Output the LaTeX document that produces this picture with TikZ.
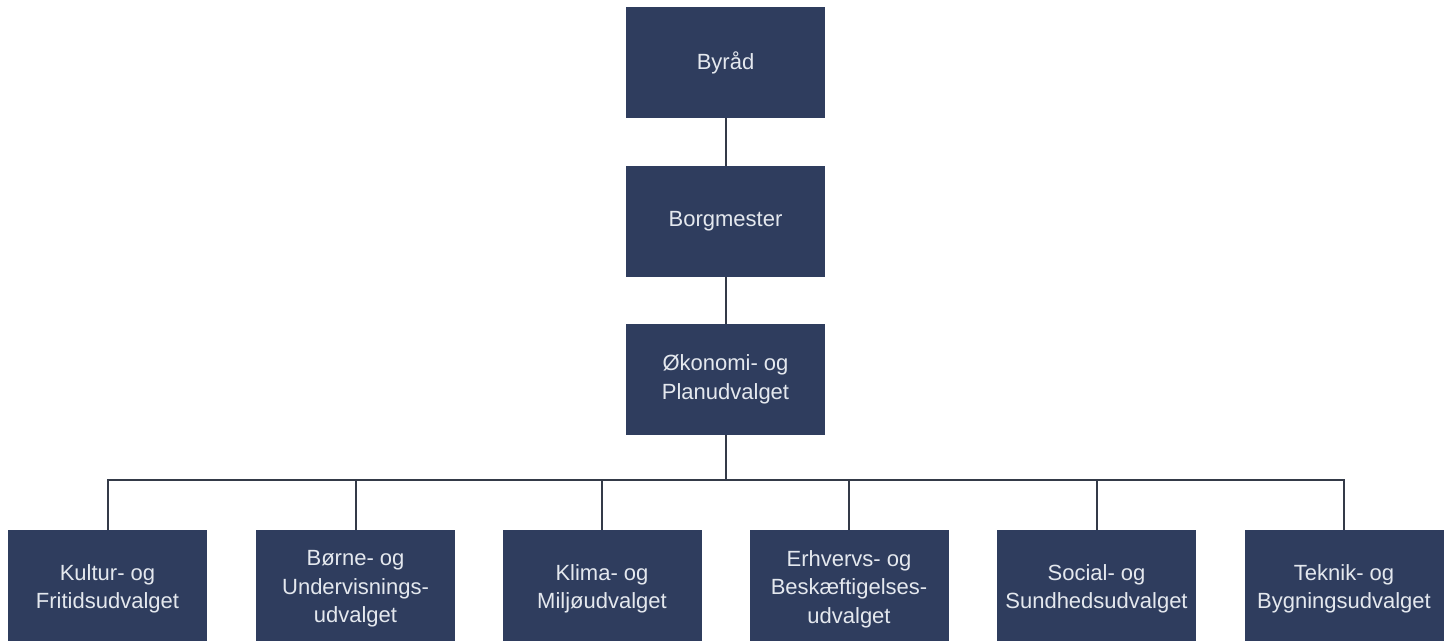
\documentclass[tikz,border=0pt]{standalone}
\usepackage{fontspec}
\setmainfont{Liberation Sans}
\definecolor{boxfill}{RGB}{47,61,94}
\definecolor{boxtext}{RGB}{228,232,238}
\definecolor{linecol}{RGB}{52,58,72}
\begin{document}
\begin{tikzpicture}[x=1pt,y=-1pt,
  orgbox/.style={draw=none,fill=boxfill,text=boxtext,minimum width=199pt,minimum height=111pt,
    inner sep=1pt,align=center,font=\fontsize{22}{28.5}\selectfont},
  lowbox/.style={orgbox,minimum height=118pt},
  conn/.style={draw=linecol,line width=2pt}]
\useasboundingbox (0,0) rectangle (1451,640);
\node[orgbox] (byraad) at (725.5,62.5) {Byråd};
\node[orgbox] (borg) at (725.5,221.5) {Borgmester};
\node[orgbox] (oek) at (725.5,379.5) {Økonomi- og\\Planudvalget};
\node[lowbox] (kultur) at (107.5,589) {Kultur- og\\Fritidsudvalget};
\node[lowbox] (boerne) at (355.5,589) {Børne- og\\Undervisnings-\\udvalget};
\node[lowbox] (klima) at (602,589) {Klima- og\\Miljøudvalget};
\node[lowbox] (erhverv) at (849,589) {Erhvervs- og\\Beskæftigelses-\\udvalget};
\node[lowbox] (social) at (1096.5,589) {Social- og\\Sundhedsudvalget};
\node[lowbox] (teknik) at (1344,589) {Teknik- og\\Bygningsudvalget};
\coordinate (bus) at (725.5,480);
\draw[conn] (byraad) -- (borg);
\draw[conn] (borg) -- (oek);
\draw[conn] (oek) -- (bus);
\draw[conn] (kultur.north) |- (bus) -| (teknik.north);
\foreach \n in {boerne,klima,erhverv,social}
  \draw[conn] (\n.north) -- (\n.north |- bus);
\end{tikzpicture}
\end{document}
